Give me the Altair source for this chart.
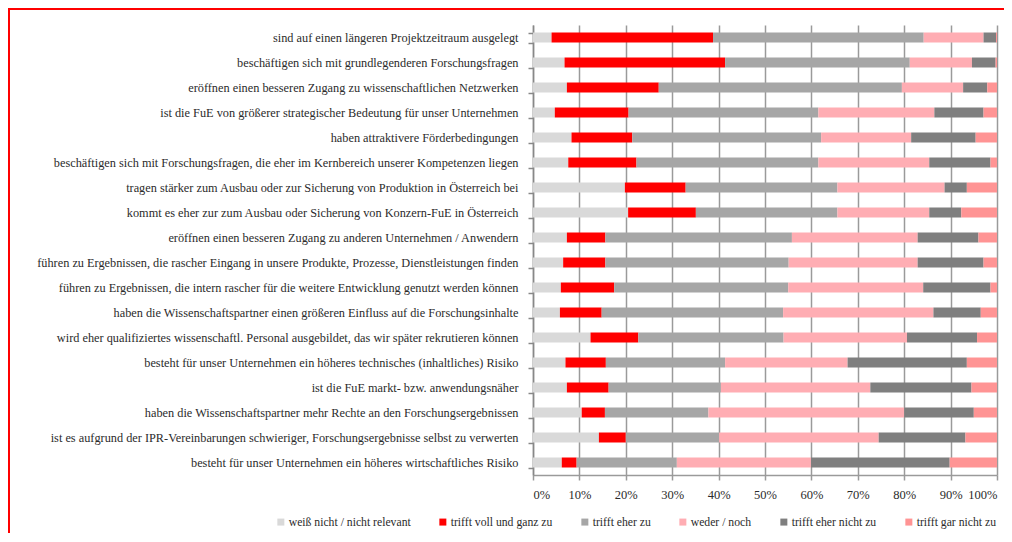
import altair as alt
import pandas as pd

statements = [
    "sind auf einen längeren Projektzeitraum ausgelegt",
    "beschäftigen sich mit grundlegenderen Forschungsfragen",
    "eröffnen einen besseren Zugang zu wissenschaftlichen Netzwerken",
    "ist die FuE von größerer strategischer Bedeutung für unser Unternehmen",
    "haben attraktivere Förderbedingungen",
    "beschäftigen sich mit Forschungsfragen, die eher im Kernbereich unserer Kompetenzen liegen",
    "tragen stärker zum Ausbau oder zur Sicherung von Produktion in Österreich bei",
    "kommt es eher zur zum Ausbau oder Sicherung von Konzern-FuE in Österreich",
    "eröffnen einen besseren Zugang zu anderen Unternehmen / Anwendern",
    "führen zu Ergebnissen, die rascher Eingang in unsere Produkte, Prozesse, Dienstleistungen finden",
    "führen zu Ergebnissen, die intern rascher für die weitere Entwicklung genutzt werden können",
    "haben die Wissenschaftspartner einen größeren Einfluss auf die Forschungsinhalte",
    "wird eher qualifiziertes wissenschaftl. Personal ausgebildet, das wir später rekrutieren können",
    "besteht für unser Unternehmen ein höheres technisches (inhaltliches) Risiko",
    "ist die FuE markt- bzw. anwendungsnäher",
    "haben die Wissenschaftspartner mehr Rechte an den Forschungsergebnissen",
    "ist es aufgrund der IPR-Vereinbarungen schwieriger, Forschungsergebnisse selbst zu verwerten",
    "besteht für unser Unternehmen ein höheres wirtschaftliches Risiko",
]

categories = [
    "weiß nicht / nicht relevant",
    "trifft voll und ganz zu",
    "trifft eher zu",
    "weder / noch",
    "trifft eher nicht zu",
    "trifft gar nicht zu",
]

weiss_nicht = [4.0, 6.8, 7.3, 4.7, 8.3, 7.6, 19.8, 20.5, 7.3, 6.5, 6.0, 5.8, 12.4, 7.0, 7.3, 10.5, 14.2, 6.2]
voll_zu     = [34.8, 34.6, 19.8, 15.9, 13.1, 14.7, 13.1, 14.6, 8.3, 9.1, 11.5, 9.0, 10.3, 8.7, 9.0, 5.0, 5.8, 3.2]
eher_zu     = [45.4, 39.8, 52.4, 40.9, 40.7, 39.2, 32.7, 30.5, 40.2, 39.5, 37.5, 39.1, 31.3, 25.7, 24.2, 22.3, 20.1, 21.6]
weder_noch  = [12.9, 13.4, 13.2, 25.0, 19.4, 23.9, 23.1, 19.8, 27.1, 27.8, 29.1, 32.4, 26.6, 26.4, 32.2, 42.2, 34.4, 28.9]
eher_nicht  = [2.7, 5.1, 5.2, 10.6, 13.9, 13.2, 4.8, 6.9, 13.1, 14.2, 14.5, 10.2, 15.1, 25.7, 21.8, 15.0, 18.7, 29.9]
gar_nicht   = [0.2, 0.3, 2.1, 2.9, 4.6, 1.4, 6.5, 7.7, 4.0, 2.9, 1.4, 3.5, 4.3, 6.5, 5.5, 5.0, 6.8, 10.2]

colors = ["#d9d9d9", "#ff0000", "#a6a6a6", "#ffadb3", "#7f7f7f", "#ff9494"]

series = [weiss_nicht, voll_zu, eher_zu, weder_noch, eher_nicht, gar_nicht]
rows = []
for ci, (cat, vals) in enumerate(zip(categories, series)):
    for stmt, v in zip(statements, vals):
        rows.append({"Aussage": stmt, "Kategorie": cat, "Wert": v, "ord": ci})
df = pd.DataFrame(rows)

FONT = "Liberation Serif"

bars = alt.Chart(df).mark_bar().encode(
    y=alt.Y("Aussage:N", sort=statements, title=None,
            scale=alt.Scale(paddingInner=0.6, paddingOuter=0.3),
            axis=alt.Axis(tickBand="extent", grid=False, labelLimit=600,
                          labelFontSize=12.3, labelFont=FONT, labelColor="#2b2b2b",
                          labelPadding=10, tickSize=5, tickColor="#888888",
                          domainColor="#888888", domainWidth=1.5, tickWidth=1.5)),
    x=alt.X("Wert:Q", stack="normalize", title=None,
            scale=alt.Scale(domain=[0, 1], nice=False),
            axis=alt.Axis(format=".0%", values=[i / 10 for i in range(11)],
                          grid=True, gridColor="#9a9a9a", gridWidth=1.5,
                          tickSize=5, tickColor="#9a9a9a", tickWidth=1.5,
                          domainColor="#9a9a9a", domainWidth=1.5,
                          labelFontSize=12.5, labelFont=FONT, labelColor="#2b2b2b",
                          labelPadding=8)),
    color=alt.Color("Kategorie:N", sort=categories,
                    scale=alt.Scale(domain=categories, range=colors),
                    legend=alt.Legend(title=None, orient="none", direction="horizontal",
                                      legendX=-258, legendY=491,
                                      symbolType="square", symbolSize=49,
                                      symbolStrokeWidth=0,
                                      labelFont=FONT, labelFontSize=11.7,
                                      labelColor="#2b2b2b", columnPadding=26,
                                      labelOffset=2, labelLimit=300)),
    order=alt.Order("ord:Q", sort="ascending"),
)

frame_df = pd.DataFrame({"a": [0]})
frame_top = alt.Chart(frame_df).mark_rule(color="#ff0000", strokeWidth=2).encode(
    x=alt.value(-525), x2=alt.value(600), y=alt.value(-16),
)
frame_left = alt.Chart(frame_df).mark_rule(color="#ff0000", strokeWidth=2).encode(
    x=alt.value(-524), y=alt.value(-17), y2=alt.value(600),
)

chart = alt.layer(bars, frame_top, frame_left).properties(
    width=464, height=450,
    padding={"left": 525, "top": 17, "right": 7, "bottom": 58},
    autosize=alt.AutoSizeParams(type="none"),
).configure_view(stroke=None)

chart.save("out.html", embed_options={"renderer": "svg", "actions": False})
